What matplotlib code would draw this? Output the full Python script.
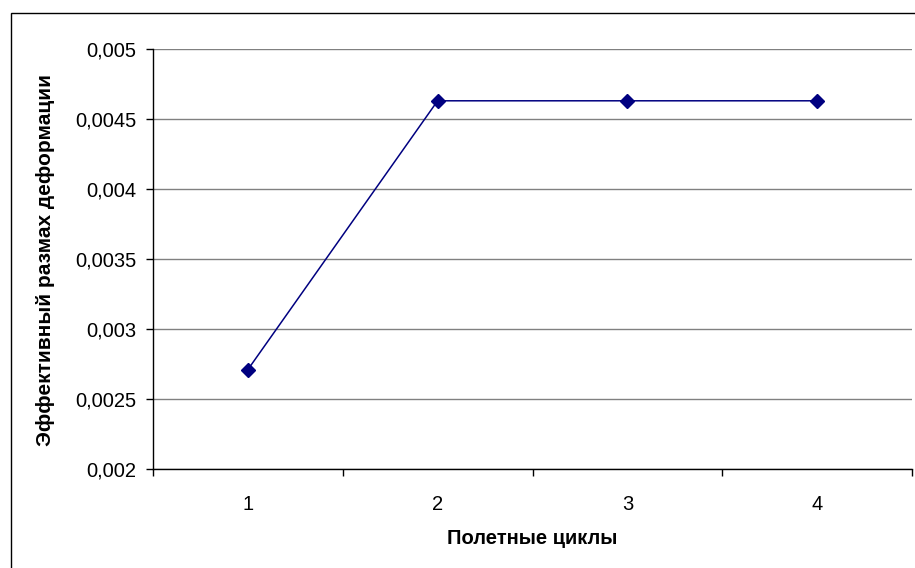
import matplotlib
matplotlib.use("Agg")
import matplotlib.pyplot as plt
from matplotlib.patches import Rectangle
import numpy as np

categories = ["1", "2", "3", "4"]
values = [0.00271, 0.00463, 0.00463, 0.00463]
yticks = [0.002, 0.0025, 0.003, 0.0035, 0.004, 0.0045, 0.005]
ytick_labels = ["0,002", "0,0025", "0,003", "0,0035", "0,004", "0,0045", "0,005"]

plt.rcParams['font.family'] = ['Liberation Sans', 'DejaVu Sans']

W, H = 915, 568
fig = plt.figure(figsize=(W / 100, H / 100), dpi=100)
fig.patch.set_facecolor("white")

# outer chart frame
fig.patches.append(Rectangle((11 / W, -0.05), 1.2, 1 - 13 / H + 0.05,
                             transform=fig.transFigure, fill=False,
                             edgecolor="black", linewidth=1.0))

left, right, top, bottom = 153, 912, 49, 469
ax = fig.add_axes([left / W, 1 - bottom / H, (right - left) / W, (bottom - top) / H])

x = np.arange(1, len(categories) + 1)
ax.plot(x, values, color="#000080", linewidth=1.1, marker="D", markersize=7.5,
        markerfacecolor="#000080", markeredgecolor="#000080", zorder=3, clip_on=False)

ax.set_xlim(0.5, len(categories) + 0.5)
ax.set_ylim(0.002, 0.005)
ax.set_yticks(yticks)
ax.set_yticklabels(ytick_labels, fontsize=14.5)
ax.yaxis.grid(True, color="#808080", linewidth=1.0)
ax.set_axisbelow(True)

ax.set_xticks(np.arange(0.5, len(categories) + 1, 1.0))
ax.set_xticklabels([])
ax.set_xticks(x, minor=True)
ax.set_xticklabels(categories, minor=True, fontsize=14.5)
ax.tick_params(axis="x", which="minor", length=0, pad=19)
ax.tick_params(axis="x", which="major", length=5, width=1, direction="out", color="black")
ax.tick_params(axis="y", length=5, width=1, direction="out", pad=7)

for s in ["top", "right"]:
    ax.spines[s].set_visible(False)
for s in ["left", "bottom"]:
    ax.spines[s].set_color("black")
    ax.spines[s].set_linewidth(1.0)

fig.text((left + right) / 2 / W, 1 - 539 / H, "Полетные циклы", ha="center", va="center",
         fontsize=14.5, fontweight="bold")
fig.text(46 / W, 1 - 260 / H, "Эффективный размах деформации", ha="center", va="center",
         rotation=90, fontsize=15, fontweight="bold")

fig.savefig("out.png", dpi=100)
